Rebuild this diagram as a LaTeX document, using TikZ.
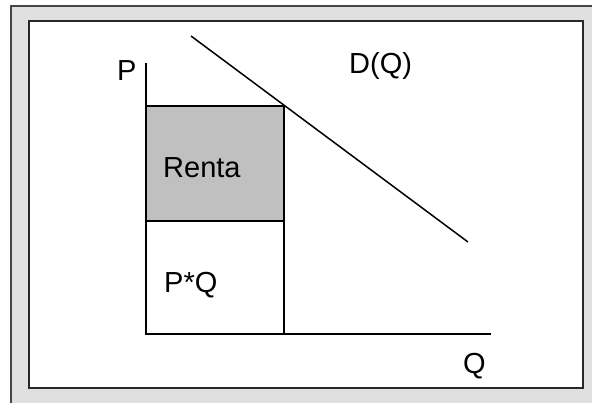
\documentclass[tikz,border=0pt]{standalone}
\usepackage{fontspec}
\setmainfont{Liberation Sans}
\begin{document}
\begin{tikzpicture}[x=1pt,y=-1pt,
  lbl/.style={font=\fontsize{29}{33}\selectfont, anchor=base west, inner sep=0pt},
  ln/.style={line width=1.5pt, draw=black}]
\useasboundingbox (0,0) rectangle (592,402);
\fill[white] (0,0) rectangle (592,402);
% frame
\filldraw[fill={rgb,255:red,224;green,224;blue,224}, draw={rgb,255:red,70;green,70;blue,70}, line width=1.5pt] (11,6) rectangle (610,420);
\filldraw[fill=white, draw={rgb,255:red,40;green,40;blue,40}, line width=1.5pt] (29,21) rectangle (583,388);
% coordinates
\coordinate (O) at (146,334);
\coordinate (Ptop) at (146,63);
\coordinate (Qend) at (491,334);
\coordinate (Dstart) at (191,36);
\coordinate (Dend) at (468,242);
% areas
\filldraw[fill={rgb,255:red,192;green,192;blue,192}, ln] (146,106) rectangle (284,221);
\draw[ln] (146,221) rectangle (284,334);
% axes
\draw[ln] (Ptop) -- (O) -- (Qend);
% demand
\draw[ln] (Dstart) -- (Dend);
% labels
\node[lbl] (p) at (117,80) {P};
\node[lbl] (d) at (349,73) {D(Q)};
\node[lbl] (r) at (163,177) {Renta};
\node[lbl] (pq) at (164,292) {P*Q};
\node[lbl] (q) at (463,373) {Q};
\end{tikzpicture}
\end{document}
